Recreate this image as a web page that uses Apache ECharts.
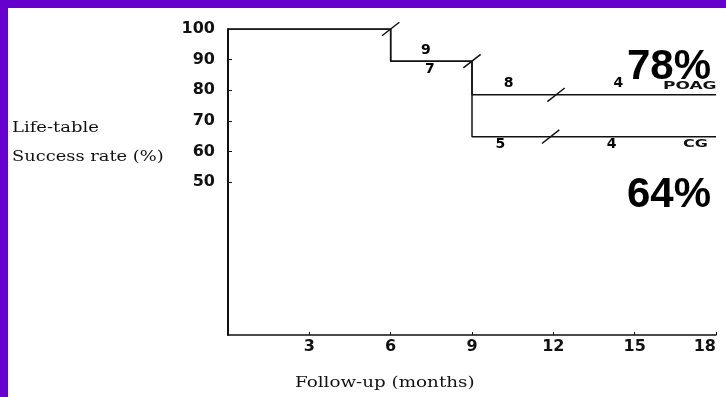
<!DOCTYPE html>
<html><head><meta charset="utf-8">
<script src="https://cdn.jsdelivr.net/npm/echarts@6/dist/echarts.min.js"></script>
<style>html,body{margin:0;padding:0;background:#fff}#c{width:726px;height:397px}</style>
</head><body><div id="c"></div>
<script>
// Data (months, life-table success rate %)
const poagCurve = [[0, 100], [6, 89.5], [9, 78.5], [18, 78.5]];
const cgCurve = [[0, 100], [6, 89.5], [9, 64.8], [18, 64.8]];
const censorMarks = [[6, 100], [9, 89.5], [12.1, 78.5], [11.9, 64.8]];
const poagAtRisk = [[7.3, 89.5, '9'], [10.35, 78.5, '8'], [14.4, 78.5, '4']];
const cgAtRisk = [[7.45, 89.5, '7'], [10.05, 64.8, '5'], [14.15, 64.8, '4']];
const yTickLabels = [50, 60, 70, 80, 90, 100];
const yTicks = [50, 60, 70, 80, 90];
const xTickLabels = [3, 6, 9, 12, 15, 18];
const poagRate = '78%';
const cgRate = '64%';

const chart = echarts.init(document.getElementById('c'));
const ink = '#111';
chart.setOption({
  backgroundColor: '#fff',
  animation: false,
  grid: { left: 228, right: 10, top: 29, bottom: 62, containLabel: false, outerBoundsMode: 'none' },
  xAxis: {
    type: 'value', min: 0, max: 18, interval: 3,
    axisLine: { lineStyle: { color: ink, width: 1.5 } },
    axisTick: { inside: true, length: 3, lineStyle: { color: ink }, customValues: xTickLabels },
    axisLabel: { customValues: xTickLabels, color: ink, fontFamily: 'DejaVu Sans', fontWeight: 'bold', fontSize: 16, margin: 4, alignMaxLabel: 'right' },
    splitLine: { show: false }
  },
  yAxis: {
    type: 'value', min: 0, max: 100, interval: 10,
    axisLine: { show: true, lineStyle: { color: ink, width: 2 } },
    axisTick: { show: true, inside: true, length: 4, lineStyle: { color: ink }, customValues: yTicks },
    axisLabel: { customValues: yTickLabels, color: ink, fontFamily: 'DejaVu Sans', fontWeight: 'bold', fontSize: 16, margin: 13, padding: [0, 0, 8, 0] },
    splitLine: { show: false }
  },
  series: [
    { type: 'line', step: 'end', data: poagCurve, symbol: 'none', lineStyle: { color: ink, width: 1.5 } },
    { type: 'line', step: 'end', data: cgCurve, symbol: 'none', lineStyle: { color: ink, width: 1.5 } },
    { type: 'scatter', data: censorMarks, symbol: 'rect', symbolSize: [22, 1.5], symbolRotate: 38,
      itemStyle: { color: ink, opacity: 1 } },
    { type: 'scatter', data: poagAtRisk, symbolSize: 0, itemStyle: { opacity: 1 },
      label: { show: true, position: 'top', distance: 4, formatter: p => p.data[2],
        color: '#000', fontFamily: 'DejaVu Sans', fontWeight: 'bold', fontSize: 14 } },
    { type: 'scatter', data: cgAtRisk, symbolSize: 0, itemStyle: { opacity: 1 },
      label: { show: true, position: 'bottom', distance: 1, formatter: p => p.data[2],
        color: '#000', fontFamily: 'DejaVu Sans', fontWeight: 'bold', fontSize: 14 } }
  ],
  graphic: [
    { type: 'rect', left: 0, top: 0, shape: { width: 726, height: 8 }, style: { fill: '#6600cc' } },
    { type: 'rect', left: 0, top: 0, shape: { width: 8, height: 397 }, style: { fill: '#6600cc' } },
    { type: 'text', left: 12, top: 121, scaleX: 1.2, style: { text: 'Life-table', font: '15px "DejaVu Serif"', fill: ink } },
    { type: 'text', left: 12, top: 150, scaleX: 1.19, style: { text: 'Success rate (%)', font: '15px "DejaVu Serif"', fill: ink } },
    { type: 'text', left: 295, top: 376, scaleX: 1.22, style: { text: 'Follow-up (months)', font: '15px "DejaVu Serif"', fill: ink } },
    { type: 'text', left: 627, top: 46, style: { text: poagRate, font: 'bold 42px "Liberation Sans"', fill: '#000' } },
    { type: 'text', left: 627, top: 174, style: { text: cgRate, font: 'bold 42px "Liberation Sans"', fill: '#000' } },
    { type: 'text', left: 663, top: 81, scaleX: 1.7, style: { text: 'POAG', font: 'bold 10px "DejaVu Sans"', fill: ink } },
    { type: 'text', left: 683, top: 139, scaleX: 1.6, style: { text: 'CG', font: 'bold 10px "DejaVu Sans"', fill: ink } }
  ]
});
</script></body></html>
